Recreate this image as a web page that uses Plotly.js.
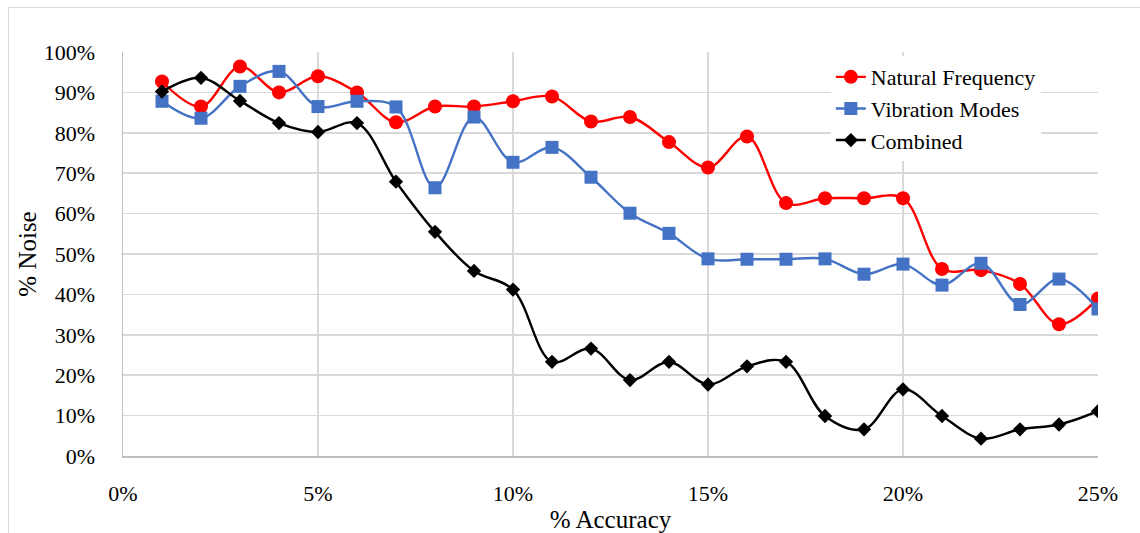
<!DOCTYPE html>
<html>
<head>
<meta charset="utf-8">
<script src="https://cdn.plot.ly/plotly-3.0.1.min.js"></script>
<style>
  html, body { margin: 0; padding: 0; background: #ffffff; overflow: hidden; }
  #frame { position: absolute; left: 8px; top: 7px; width: 1200px; height: 600px; border: 1.5px solid #d9d9d9; box-sizing: border-box; }
  #chart { position: absolute; left: 0; top: 0; width: 1140px; height: 533px; }
  #chart svg text { font-family: "Liberation Serif", "Times New Roman", serif !important; }
</style>
</head>
<body>
<div id="frame"></div>
<div id="chart"></div>
<script>
// Data (x in %, y in %)
const accuracy = [1,2,3,4,5,6,7,8,9,10,11,12,13,14,15,16,17,18,19,20,21,22,23,24,25];
const naturalFrequency = [92.7,86.5,96.4,90.0,94.0,90.0,82.6,86.5,86.5,87.8,89.0,82.8,83.9,77.7,71.4,79.1,62.6,63.8,63.8,63.8,46.3,46.0,42.6,32.6,39.0];
const vibrationModes   = [87.8,83.6,91.5,95.2,86.5,87.8,86.4,66.4,83.9,72.7,76.4,69.0,60.1,55.1,48.8,48.7,48.7,48.8,45.0,47.5,42.3,47.7,37.5,43.8,36.4];
const combined         = [90.2,93.6,87.9,82.4,80.2,82.4,67.9,55.5,45.8,41.2,23.3,26.6,18.8,23.3,17.7,22.2,23.3,9.9,6.6,16.5,9.9,4.3,6.6,7.8,11.1];
const seriesNames = ["Natural Frequency", "Vibration Modes", "Combined"];
const xTickVals = [0,5,10,15,20,25];
const yTickVals = [0,10,20,30,40,50,60,70,80,90,100];

const font = "Liberation Serif";

const traces = [
  {
    x: accuracy, y: naturalFrequency, name: seriesNames[0], type: "scatter", mode: "lines+markers",
    line: { color: "#ff0000", width: 2.4, shape: "spline", smoothing: 1 },
    marker: { symbol: "circle", size: 14, color: "#ff0000" }
  },
  {
    x: accuracy, y: vibrationModes, name: seriesNames[1], type: "scatter", mode: "lines+markers",
    line: { color: "#4472c4", width: 2.4, shape: "spline", smoothing: 1 },
    marker: { symbol: "square", size: 13, color: "#4472c4" }
  },
  {
    x: accuracy, y: combined, name: seriesNames[2], type: "scatter", mode: "lines+markers",
    line: { color: "#000000", width: 2.4, shape: "spline", smoothing: 1 },
    marker: { symbol: "diamond", size: 11, color: "#000000" }
  }
];

const layout = {
  width: 1140, height: 533,
  margin: { l: 123, r: 42, t: 52, b: 77 },
  paper_bgcolor: "rgba(0,0,0,0)",
  plot_bgcolor: "#ffffff",
  font: { family: font, color: "#000000", size: 22 },
  showlegend: true,
  legend: {
    x: 0.726, y: 0.99, xanchor: "left", yanchor: "top",
    bgcolor: "#ffffff", borderwidth: 0,
    font: { family: font, size: 22, color: "#000000" },
    tracegroupgap: 0
  },
  xaxis: {
    range: [0, 25],
    tickvals: xTickVals,
    ticktext: xTickVals.map(v => v + "%"),
    showgrid: true, gridcolor: "#d9d9d9", gridwidth: 1.5,
    zeroline: false,
    showline: true, linecolor: "#bfbfbf", linewidth: 1.5, mirror: false,
    ticks: "outside", ticklen: 17, tickcolor: "rgba(0,0,0,0)",
    tickfont: { family: font, size: 22, color: "#000000" },
    title: { text: "% Accuracy", font: { family: font, size: 25, color: "#000000" }, standoff: 7 },
    fixedrange: true
  },
  yaxis: {
    range: [0, 100],
    tickvals: yTickVals,
    ticktext: yTickVals.map(v => v + "%"),
    showgrid: true, gridcolor: "#d9d9d9", gridwidth: 1.5,
    zeroline: false,
    showline: true, linecolor: "#bfbfbf", linewidth: 1.5,
    ticks: "outside", ticklen: 22, tickcolor: "rgba(0,0,0,0)",
    tickfont: { family: font, size: 22, color: "#000000" },
    title: { text: "% Noise", font: { family: font, size: 25, color: "#000000" }, standoff: 0 },
    fixedrange: true
  },
  hovermode: false
};

Plotly.newPlot("chart", traces, layout, { displayModeBar: false, staticPlot: true });
</script>
</body>
</html>
